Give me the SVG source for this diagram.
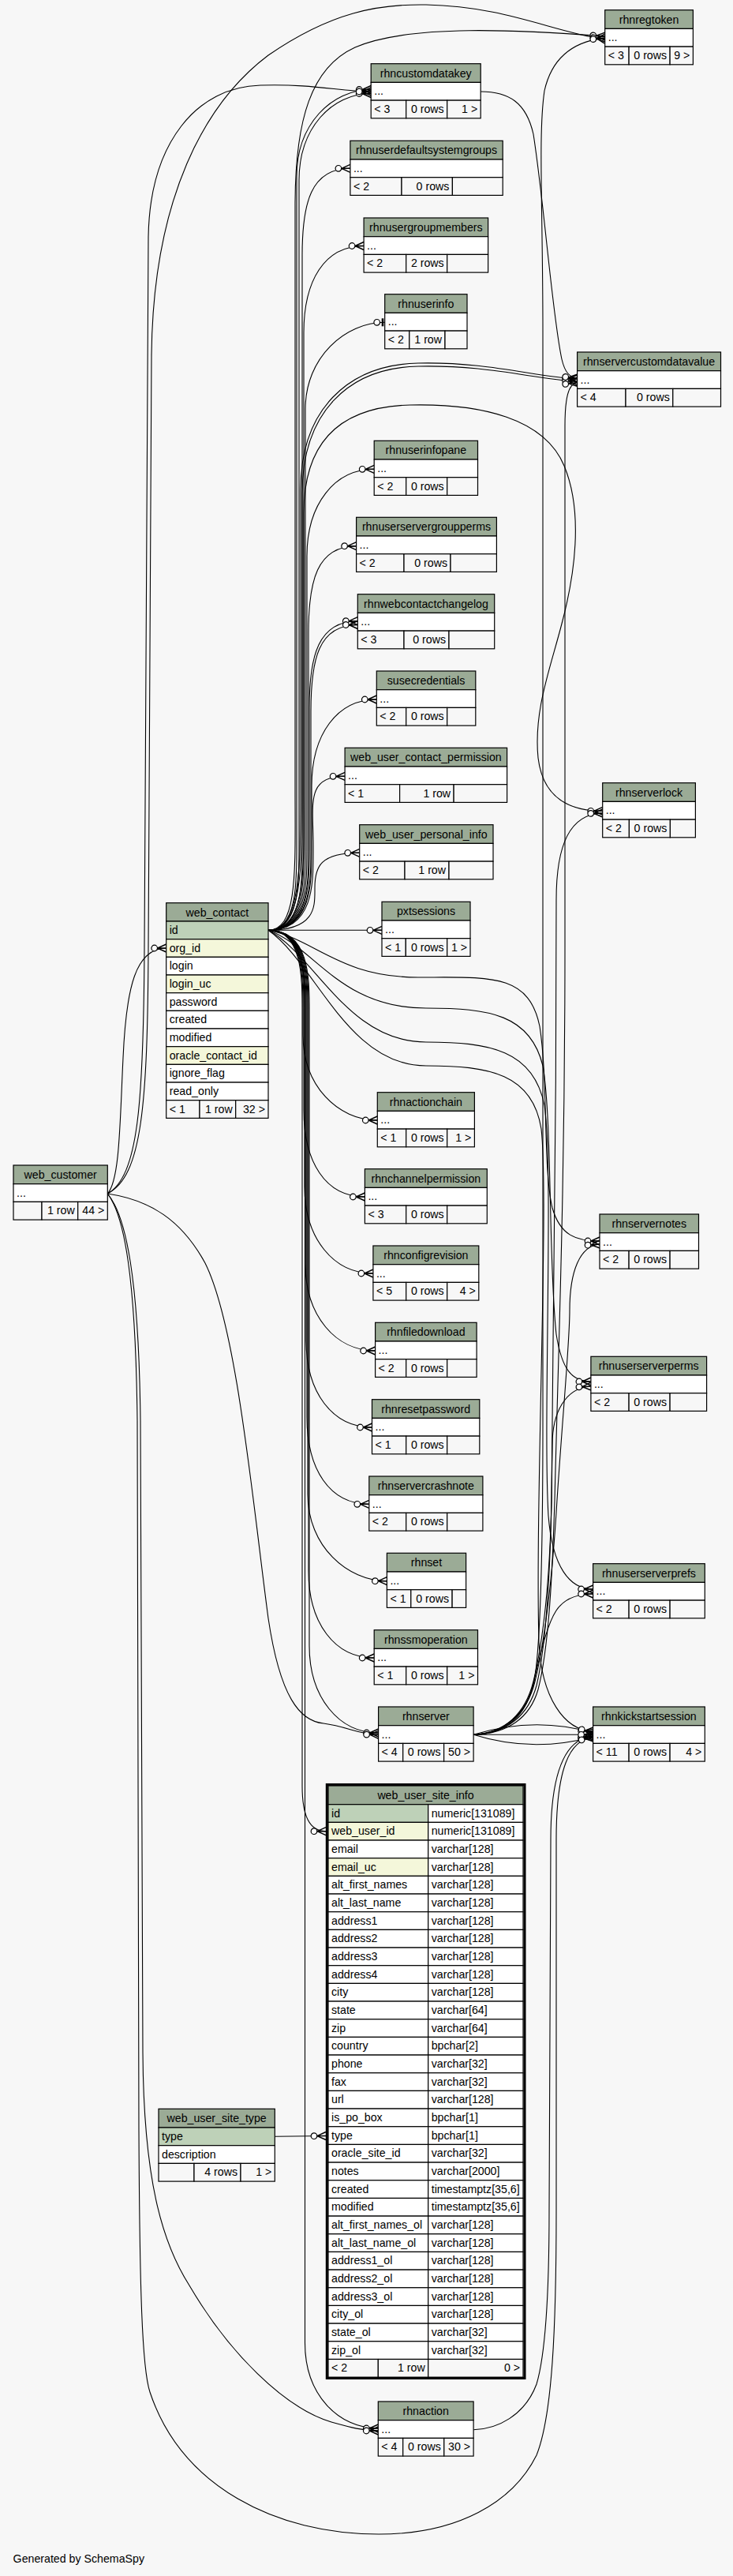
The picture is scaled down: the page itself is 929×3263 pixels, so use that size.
<svg xmlns="http://www.w3.org/2000/svg" width="929" height="3263" viewBox="0 0 929 3263">
<style>
text{font-family:"Liberation Sans",Arial,Helvetica,sans-serif;font-size:14.2px;fill:#000}
.tc{text-anchor:middle}
.te{text-anchor:end}
rect.h{fill:#9bab96;stroke:#000;stroke-width:1.2}
rect.r{fill:#fff;stroke:#000;stroke-width:1.2}
rect.p{fill:#bed1b8;stroke:#000;stroke-width:1.2}
rect.i{fill:#f4f7da;stroke:#000;stroke-width:1.2}
rect.f{fill:#f7f7f7;stroke:#000;stroke-width:1.2}
.e{fill:none;stroke:#000;stroke-width:1.1;marker-end:url(#cr)}
.eb{fill:none;stroke:#000;stroke-width:1.1;marker-end:url(#br)}
</style>
<defs>
<marker id="cr" markerUnits="userSpaceOnUse" markerWidth="24" markerHeight="14" viewBox="-21 -7 22 14" refX="0" refY="0" orient="auto" overflow="visible">
<path d="M-11,0L0,-5M-11,0L0,0M-11,0L0,5" fill="none" stroke="#000" stroke-width="1.4"/>
<circle cx="-15" cy="0" r="3.8" fill="#fff" stroke="#000" stroke-width="1.2"/>
</marker>
<marker id="br" markerUnits="userSpaceOnUse" markerWidth="24" markerHeight="14" viewBox="-21 -7 22 14" refX="0" refY="0" orient="auto" overflow="visible">
<rect x="-4" y="-5" width="2.6" height="10" fill="#000"/>
<circle cx="-10" cy="0" r="3.8" fill="#fff" stroke="#000" stroke-width="1.2"/>
</marker>
</defs>
<rect width="929" height="3263" fill="#f7f7f7"/>

<g id="connectors">
<path class="e" d="M340,1178.3 C376,1178.3 376,1118.3 376,1078.3 L376,223.5 C376,157.5 420.2,113.5 470.2,113.5"/>
<path class="e" d="M340,1178.3 C379,1178.3 379,1118.3 379,1078.3 L379,228.5 C379,162.5 420.2,118.5 470.2,118.5"/>
<path class="e" d="M340,1178.3 C383,1178.3 383,1118.3 383,1078.3 L383,323.3 C383,257.3 393.9,213.3 443.9,213.3"/>
<path class="e" d="M340,1178.3 C385,1178.3 385,1118.3 385,1078.3 L385,421.5 C385,355.5 411.1,311.5 461.1,311.5"/>
<path class="eb" d="M340,1178.3 C387,1178.3 387,1118.3 387,1078.3 L387,518.3 C387,452.3 437.7,408.3 487.7,408.3"/>
<path class="e" d="M340,1178.3 C389,1178.3 389,1118.3 389,1078.3 L389,704.3 C389,638.3 424.2,594.3 474.2,594.3"/>
<path class="e" d="M340,1178.3 C391,1178.3 391,1118.3 391,1078.3 L391,801.7 C391,735.7 401.6,691.7 451.6,691.7"/>
<path class="e" d="M340,1178.3 C392,1178.3 392,1118.3 392,1078.3 L392,896.7 C392,830.7 403.3,786.7 453.3,786.7"/>
<path class="e" d="M340,1178.3 C394,1178.3 394,1118.3 394,1078.3 L394,901.5 C394,835.5 403.3,791.5 453.3,791.5"/>
<path class="e" d="M340,1178.3 C395,1178.3 395,1118.3 395,1078.3 L395,996 C395,930 427.3,886 477.3,886"/>
<path class="e" d="M340,1178.3 C397,1178.3 397,1119.8 397,1080.8 L397,1071 C397,1018.4 387.1,983.3 437.1,983.3"/>
<path class="e" d="M340,1178.3 C399,1178.3 399,1148.9 399,1129.3 L399,1124.4 C399,1098 405.7,1080.3 455.7,1080.3"/>
<path class="e" d="M340,1178.3 L484,1178.3"/>
<path class="e" d="M340,1178.3 C384,1178.3 384,1238.3 384,1278.3 L384,1310.7 C384,1375.7 428.3,1419 478.3,1419"/>
<path class="e" d="M340,1178.3 C385,1178.3 385,1238.3 385,1278.3 L385,1406 C385,1472 412.4,1516 462.4,1516"/>
<path class="e" d="M340,1178.3 C386,1178.3 386,1238.3 386,1278.3 L386,1503 C386,1569 422.9,1613 472.9,1613"/>
<path class="e" d="M340,1178.3 C387,1178.3 387,1238.3 387,1278.3 L387,1601 C387,1667 425.6,1711 475.6,1711"/>
<path class="e" d="M340,1178.3 C388,1178.3 388,1238.3 388,1278.3 L388,1698 C388,1764 421.5,1808 471.5,1808"/>
<path class="e" d="M340,1178.3 C389,1178.3 389,1238.3 389,1278.3 L389,1795.3 C389,1861.3 417.8,1905.3 467.8,1905.3"/>
<path class="e" d="M340,1178.3 C390,1178.3 390,1238.3 390,1278.3 L390,1892.7 C390,1958.7 440.4,2002.7 490.4,2002.7"/>
<path class="e" d="M340,1178.3 C391,1178.3 391,1238.3 391,1278.3 L391,1990 C391,2056 424.2,2100 474.2,2100"/>
<path class="e" d="M340,1178.3 C392,1178.3 392,1238.3 392,1278.3 L392,2084.5 C392,2150.5 429.6,2195 479.6,2195"/>
<path class="e" d="M340,1178.3 C383,1178.3 383,1238.3 383,1278.3 L383,2262 C383,2300 392,2319.7 413,2319.7"/>
<path class="e" d="M340,1178.3 C386.5,1178.3 386.5,1238.3 386.5,1278.3 L386.5,2967.7 C386.5,3033.7 429.3,3076 479.3,3076"/>
<path class="e" d="M340,1178.3 C400,1190 430,1238 530,1238 C620,1238 670,1232 684,1300 C695,1370 688,1480 700,1530 C710,1565 730,1572 760,1572"/>
<path class="e" d="M340,1178.3 C400,1200 430,1277 540,1277 C620,1277 672,1285 688,1350 C700,1420 695,1600 705,1690 C712,1735 725,1750 748.9,1750"/>
<path class="e" d="M340,1178.3 C400,1210 440,1320 540,1320 C620,1320 676,1330 690,1400 C702,1480 688,1800 695,1920 C700,1985 722,2013 751.6,2013"/>
<path class="e" d="M340,1178.3 C400,1220 440,1350 540,1350 C620,1350 675,1360 686,1430 C696,1520 678,1900 683,2080 C686,2150 715,2192 751.6,2193"/>
<path class="e" d="M340,1178.3 C381,1178.3 381,1100 381,1000 L381,620 C381,520 440,462 530,460 C620,458 680,478 731.6,480"/>
<path class="e" d="M340,1178.3 C383,1178.3 383,1100 383,1000 L383,625 C383,524 440,466 530,464 C620,462 680,481 731.6,483"/>
<path class="e" d="M340,1178.3 C390,1178.3 385,1100 385,1000 L385,650 C385,560 430,515 520,513 C610,511 690,530 715,590 C740,650 728,730 712,790 C698,845 676,900 682,960 C688,1010 720,1027.3 763.7,1027.3"/>
<path class="e" d="M340,1178.3 C378,1178.3 374,1100 374,1000 L374,260 C374,150 395,85 450,60 C520,30 660,38 766.7,46"/>
<path class="e" d="M136.3,1512 C152,1495 152,1420 156,1340 C160,1250 172,1201 210.7,1201"/>
<path class="e" d="M136.3,1512 C175,1490 182,1400 183,1200 L188,300 C190,180 250,110 330,108 C400,106 430,116 470.2,116"/>
<path class="e" d="M136.3,1512 C180,1490 187,1400 188,1200 L192,450 C194,250 260,130 340,70 C420,15 480,5 540,6 C640,8 700,40 766.7,50"/>
<path class="e" d="M136.3,1512 C190,1520 230,1545 260,1600 C300,1680 320,1900 340,2050 C355,2150 380,2180 410,2183 C440,2187 455,2197 479.6,2197.3"/>
<path class="e" d="M136.3,1512 C160,1540 176,1620 178,1800 L181,2600 C182,2760 205,2840 240,2895 C290,2980 360,3050 420,3068 C445,3075 460,3079 479.3,3079"/>
<path class="e" d="M136.3,1512 C158,1540 172,1620 174,1800 L176,2700 C177,2900 180,3000 190,3030 C230,3150 350,3210 480,3210 C580,3210 650,3170 680,3110 C700,3060 705,2950 705,2800 L705,2330 C705,2240 722,2203 751.6,2201"/>
<path class="e" d="M600.1,3077.7 C630,3077 665,3060 680,3020 C692,2980 696,2900 696,2800 L698,2330 C698,2240 718,2202 751.6,2199"/>
<path class="e" d="M609.2,116 C645,116 667,130 676,170 C690,260 700,400 712,455 C716,472 722,478 731.6,479"/>
<path class="e" d="M600.1,2197.3 C640,2195 668,2170 677,2130 C686,2080 688,1950 688,1800 L688,420 C688,260 682,170 690,115 C700,70 730,52 766.7,48"/>
<path class="e" d="M600.1,2197.3 C645,2196 672,2175 682,2140 C695,2090 700,2000 703,1900 C708,1700 716,1500 716,1200 L716,540 C716,505 720,486 731.6,484.5"/>
<path class="e" d="M600.1,2197.3 C643,2196 670,2172 680,2135 C692,2085 697,2000 699,1900 C702,1700 705,1400 705,1140 C705,1070 722,1031 763.7,1030"/>
<path class="e" d="M600.1,2197.3 C641,2196 668,2170 678,2130 C690,2080 700,2000 706,1900 C714,1780 722,1700 722,1660 C722,1610 735,1578 760,1576"/>
<path class="e" d="M600.1,2197.3 C640,2196 666,2170 676,2130 C688,2080 697,2000 699,1900 L700,1830 C700,1790 716,1758 748.9,1756"/>
<path class="e" d="M600.1,2197.3 C640,2196 664,2175 674,2140 C684,2100 692,2060 705,2040 C715,2025 730,2019 751.6,2019"/>
<path class="e" d="M600.1,2197.3 C650,2182 700,2180 751.6,2195"/>
<path class="e" d="M600.1,2197.3 L751.6,2197.3"/>
<path class="e" d="M600.1,2197.3 C650,2213 700,2214 751.6,2200"/>
<path class="e" d="M348.3,2706.3 L413,2705.5"/>
</g>

<g id="rhnregtoken" transform="translate(766.7,12.7)">
<rect class="h" width="111.7" height="23.7"/><rect class="r" y="23.7" width="111.7" height="22.7"/>
<rect class="f" y="46.4" width="30.4" height="22.7"/><rect class="f" x="30.4" y="46.4" width="52" height="22.7"/><rect class="f" x="82.4" y="46.4" width="29.3" height="22.7"/>
<text class="tc" x="55.85" y="17">rhnregtoken</text><text x="4" y="39.7">...</text>
<text x="4" y="62.4">&lt; 3</text><text class="te" x="78.4" y="62.4">0 rows</text><text class="te" x="107.7" y="62.4">9 &gt;</text>
</g>
<g id="rhncustomdatakey" transform="translate(470.2,80.7)">
<rect class="h" width="139" height="23.7"/><rect class="r" y="23.7" width="139" height="22.7"/>
<rect class="f" y="46.4" width="44.5" height="22.7"/><rect class="f" x="44.5" y="46.4" width="52" height="22.7"/><rect class="f" x="96.5" y="46.4" width="42.5" height="22.7"/>
<text class="tc" x="69.5" y="17">rhncustomdatakey</text><text x="4" y="39.7">...</text>
<text x="4" y="62.4">&lt; 3</text><text class="te" x="92.5" y="62.4">0 rows</text><text class="te" x="135" y="62.4">1 &gt;</text>
</g>
<g id="rhnuserdefaultsystemgroups" transform="translate(443.9,178.3)">
<rect class="h" width="193.3" height="23.7"/><rect class="r" y="23.7" width="193.3" height="22.7"/>
<rect class="f" y="46.4" width="65.1" height="22.7"/><rect class="f" x="65.1" y="46.4" width="64.4" height="22.7"/><rect class="f" x="129.5" y="46.4" width="63.8" height="22.7"/>
<text class="tc" x="96.65" y="17">rhnuserdefaultsystemgroups</text><text x="4" y="39.7">...</text>
<text x="4" y="62.4">&lt; 2</text><text class="te" x="125.5" y="62.4">0 rows</text>
</g>
<g id="rhnusergroupmembers" transform="translate(461.1,276)">
<rect class="h" width="157.5" height="23.7"/><rect class="r" y="23.7" width="157.5" height="22.7"/>
<rect class="f" y="46.4" width="53.6" height="22.7"/><rect class="f" x="53.6" y="46.4" width="52" height="22.7"/><rect class="f" x="105.6" y="46.4" width="51.9" height="22.7"/>
<text class="tc" x="78.75" y="17">rhnusergroupmembers</text><text x="4" y="39.7">...</text>
<text x="4" y="62.4">&lt; 2</text><text class="te" x="101.6" y="62.4">2 rows</text>
</g>
<g id="rhnuserinfo" transform="translate(487.7,372.7)">
<rect class="h" width="104.3" height="23.7"/><rect class="r" y="23.7" width="104.3" height="22.7"/>
<rect class="f" y="46.4" width="31.1" height="22.7"/><rect class="f" x="31.1" y="46.4" width="45.2" height="22.7"/><rect class="f" x="76.3" y="46.4" width="28" height="22.7"/>
<text class="tc" x="52.15" y="17">rhnuserinfo</text><text x="4" y="39.7">...</text>
<text x="4" y="62.4">&lt; 2</text><text class="te" x="72.3" y="62.4">1 row</text>
</g>
<g id="rhnservercustomdatavalue" transform="translate(731.6,446)">
<rect class="h" width="181.9" height="23.7"/><rect class="r" y="23.7" width="181.9" height="22.7"/>
<rect class="f" y="46.4" width="61.4" height="22.7"/><rect class="f" x="61.4" y="46.4" width="59.8" height="22.7"/><rect class="f" x="121.2" y="46.4" width="60.7" height="22.7"/>
<text class="tc" x="90.95" y="17">rhnservercustomdatavalue</text><text x="4" y="39.7">...</text>
<text x="4" y="62.4">&lt; 4</text><text class="te" x="117.2" y="62.4">0 rows</text>
</g>
<g id="rhnuserinfopane" transform="translate(474.2,558.3)">
<rect class="h" width="131.3" height="23.7"/><rect class="r" y="23.7" width="131.3" height="22.7"/>
<rect class="f" y="46.4" width="40.5" height="22.7"/><rect class="f" x="40.5" y="46.4" width="52" height="22.7"/><rect class="f" x="92.5" y="46.4" width="38.8" height="22.7"/>
<text class="tc" x="65.65" y="17">rhnuserinfopane</text><text x="4" y="39.7">...</text>
<text x="4" y="62.4">&lt; 2</text><text class="te" x="88.5" y="62.4">0 rows</text>
</g>
<g id="rhnuserservergroupperms" transform="translate(451.6,655.3)">
<rect class="h" width="177.8" height="23.7"/><rect class="r" y="23.7" width="177.8" height="22.7"/>
<rect class="f" y="46.4" width="60.4" height="22.7"/><rect class="f" x="60.4" y="46.4" width="59" height="22.7"/><rect class="f" x="119.4" y="46.4" width="58.4" height="22.7"/>
<text class="tc" x="88.9" y="17">rhnuserservergroupperms</text><text x="4" y="39.7">...</text>
<text x="4" y="62.4">&lt; 2</text><text class="te" x="115.4" y="62.4">0 rows</text>
</g>
<g id="rhnwebcontactchangelog" transform="translate(453.3,752.7)">
<rect class="h" width="173.4" height="23.7"/><rect class="r" y="23.7" width="173.4" height="22.7"/>
<rect class="f" y="46.4" width="58.7" height="22.7"/><rect class="f" x="58.7" y="46.4" width="57" height="22.7"/><rect class="f" x="115.7" y="46.4" width="57.7" height="22.7"/>
<text class="tc" x="86.7" y="17">rhnwebcontactchangelog</text><text x="4" y="39.7">...</text>
<text x="4" y="62.4">&lt; 3</text><text class="te" x="111.7" y="62.4">0 rows</text>
</g>
<g id="susecredentials" transform="translate(477.3,850)">
<rect class="h" width="125.5" height="23.7"/><rect class="r" y="23.7" width="125.5" height="22.7"/>
<rect class="f" y="46.4" width="37.4" height="22.7"/><rect class="f" x="37.4" y="46.4" width="52" height="22.7"/><rect class="f" x="89.4" y="46.4" width="36.1" height="22.7"/>
<text class="tc" x="62.75" y="17">susecredentials</text><text x="4" y="39.7">...</text>
<text x="4" y="62.4">&lt; 2</text><text class="te" x="85.4" y="62.4">0 rows</text>
</g>
<g id="web_user_contact_permission" transform="translate(437.1,947.3)">
<rect class="h" width="205.5" height="23.7"/><rect class="r" y="23.7" width="205.5" height="22.7"/>
<rect class="f" y="46.4" width="69.5" height="22.7"/><rect class="f" x="69.5" y="46.4" width="68.5" height="22.7"/><rect class="f" x="138" y="46.4" width="67.5" height="22.7"/>
<text class="tc" x="102.75" y="17">web_user_contact_permission</text><text x="4" y="39.7">...</text>
<text x="4" y="62.4">&lt; 1</text><text class="te" x="134" y="62.4">1 row</text>
</g>
<g id="web_user_personal_info" transform="translate(455.7,1044.7)">
<rect class="h" width="169.3" height="23.7"/><rect class="r" y="23.7" width="169.3" height="22.7"/>
<rect class="f" y="46.4" width="57.3" height="22.7"/><rect class="f" x="57.3" y="46.4" width="56" height="22.7"/><rect class="f" x="113.3" y="46.4" width="56" height="22.7"/>
<text class="tc" x="84.65" y="17">web_user_personal_info</text><text x="4" y="39.7">...</text>
<text x="4" y="62.4">&lt; 2</text><text class="te" x="109.3" y="62.4">1 row</text>
</g>
<g id="rhnserverlock" transform="translate(763.7,991.7)">
<rect class="h" width="117.7" height="23.7"/><rect class="r" y="23.7" width="117.7" height="22.7"/>
<rect class="f" y="46.4" width="33.7" height="22.7"/><rect class="f" x="33.7" y="46.4" width="52" height="22.7"/><rect class="f" x="85.7" y="46.4" width="32" height="22.7"/>
<text class="tc" x="58.85" y="17">rhnserverlock</text><text x="4" y="39.7">...</text>
<text x="4" y="62.4">&lt; 2</text><text class="te" x="81.7" y="62.4">0 rows</text>
</g>
<g id="pxtsessions" transform="translate(484,1142.3)">
<rect class="h" width="112" height="23.7"/><rect class="r" y="23.7" width="112" height="22.7"/>
<rect class="f" y="46.4" width="30.3" height="22.7"/><rect class="f" x="30.3" y="46.4" width="52.4" height="22.7"/><rect class="f" x="82.7" y="46.4" width="29.3" height="22.7"/>
<text class="tc" x="56" y="17">pxtsessions</text><text x="4" y="39.7">...</text>
<text x="4" y="62.4">&lt; 1</text><text class="te" x="78.7" y="62.4">0 rows</text><text class="te" x="108" y="62.4">1 &gt;</text>
</g>
<g id="rhnactionchain" transform="translate(478.3,1383.7)">
<rect class="h" width="123.1" height="23.7"/><rect class="r" y="23.7" width="123.1" height="22.7"/>
<rect class="f" y="46.4" width="36.4" height="22.7"/><rect class="f" x="36.4" y="46.4" width="52" height="22.7"/><rect class="f" x="88.4" y="46.4" width="34.7" height="22.7"/>
<text class="tc" x="61.55" y="17">rhnactionchain</text><text x="4" y="39.7">...</text>
<text x="4" y="62.4">&lt; 1</text><text class="te" x="84.4" y="62.4">0 rows</text><text class="te" x="119.1" y="62.4">1 &gt;</text>
</g>
<g id="rhnchannelpermission" transform="translate(462.4,1480.7)">
<rect class="h" width="154.9" height="23.7"/><rect class="r" y="23.7" width="154.9" height="22.7"/>
<rect class="f" y="46.4" width="52.3" height="22.7"/><rect class="f" x="52.3" y="46.4" width="52" height="22.7"/><rect class="f" x="104.3" y="46.4" width="50.6" height="22.7"/>
<text class="tc" x="77.45" y="17">rhnchannelpermission</text><text x="4" y="39.7">...</text>
<text x="4" y="62.4">&lt; 3</text><text class="te" x="100.3" y="62.4">0 rows</text>
</g>
<g id="rhnconfigrevision" transform="translate(472.9,1578)">
<rect class="h" width="133.9" height="23.7"/><rect class="r" y="23.7" width="133.9" height="22.7"/>
<rect class="f" y="46.4" width="41.8" height="22.7"/><rect class="f" x="41.8" y="46.4" width="52" height="22.7"/><rect class="f" x="93.8" y="46.4" width="40.1" height="22.7"/>
<text class="tc" x="66.95" y="17">rhnconfigrevision</text><text x="4" y="39.7">...</text>
<text x="4" y="62.4">&lt; 5</text><text class="te" x="89.8" y="62.4">0 rows</text><text class="te" x="129.9" y="62.4">4 &gt;</text>
</g>
<g id="rhnfiledownload" transform="translate(475.6,1675.3)">
<rect class="h" width="128.5" height="23.7"/><rect class="r" y="23.7" width="128.5" height="22.7"/>
<rect class="f" y="46.4" width="39.1" height="22.7"/><rect class="f" x="39.1" y="46.4" width="52" height="22.7"/><rect class="f" x="91.1" y="46.4" width="37.4" height="22.7"/>
<text class="tc" x="64.25" y="17">rhnfiledownload</text><text x="4" y="39.7">...</text>
<text x="4" y="62.4">&lt; 2</text><text class="te" x="87.1" y="62.4">0 rows</text>
</g>
<g id="rhnservernotes" transform="translate(760,1538)">
<rect class="h" width="125.5" height="23.7"/><rect class="r" y="23.7" width="125.5" height="22.7"/>
<rect class="f" y="46.4" width="37.1" height="22.7"/><rect class="f" x="37.1" y="46.4" width="52" height="22.7"/><rect class="f" x="89.1" y="46.4" width="36.4" height="22.7"/>
<text class="tc" x="62.75" y="17">rhnservernotes</text><text x="4" y="39.7">...</text>
<text x="4" y="62.4">&lt; 2</text><text class="te" x="85.1" y="62.4">0 rows</text>
</g>
<g id="rhnuserserverperms" transform="translate(748.9,1718.3)">
<rect class="h" width="146.7" height="23.7"/><rect class="r" y="23.7" width="146.7" height="22.7"/>
<rect class="f" y="46.4" width="48.2" height="22.7"/><rect class="f" x="48.2" y="46.4" width="52" height="22.7"/><rect class="f" x="100.2" y="46.4" width="46.5" height="22.7"/>
<text class="tc" x="73.35" y="17">rhnuserserverperms</text><text x="4" y="39.7">...</text>
<text x="4" y="62.4">&lt; 2</text><text class="te" x="96.2" y="62.4">0 rows</text>
</g>
<g id="rhnresetpassword" transform="translate(471.5,1772.7)">
<rect class="h" width="136.3" height="23.7"/><rect class="r" y="23.7" width="136.3" height="22.7"/>
<rect class="f" y="46.4" width="43.2" height="22.7"/><rect class="f" x="43.2" y="46.4" width="52" height="22.7"/><rect class="f" x="95.2" y="46.4" width="41.1" height="22.7"/>
<text class="tc" x="68.15" y="17">rhnresetpassword</text><text x="4" y="39.7">...</text>
<text x="4" y="62.4">&lt; 1</text><text class="te" x="91.2" y="62.4">0 rows</text>
</g>
<g id="rhnservercrashnote" transform="translate(467.8,1870)">
<rect class="h" width="144.1" height="23.7"/><rect class="r" y="23.7" width="144.1" height="22.7"/>
<rect class="f" y="46.4" width="46.9" height="22.7"/><rect class="f" x="46.9" y="46.4" width="52" height="22.7"/><rect class="f" x="98.9" y="46.4" width="45.2" height="22.7"/>
<text class="tc" x="72.05" y="17">rhnservercrashnote</text><text x="4" y="39.7">...</text>
<text x="4" y="62.4">&lt; 2</text><text class="te" x="94.9" y="62.4">0 rows</text>
</g>
<g id="rhnset" transform="translate(490.4,1967.3)">
<rect class="h" width="100.2" height="23.7"/><rect class="r" y="23.7" width="100.2" height="22.7"/>
<rect class="f" y="46.4" width="30.4" height="22.7"/><rect class="f" x="30.4" y="46.4" width="52.3" height="22.7"/><rect class="f" x="82.7" y="46.4" width="17.5" height="22.7"/>
<text class="tc" x="50.1" y="17">rhnset</text><text x="4" y="39.7">...</text>
<text x="4" y="62.4">&lt; 1</text><text class="te" x="78.7" y="62.4">0 rows</text>
</g>
<g id="rhnuserserverprefs" transform="translate(751.6,1980.7)">
<rect class="h" width="141.7" height="23.7"/><rect class="r" y="23.7" width="141.7" height="22.7"/>
<rect class="f" y="46.4" width="45.5" height="22.7"/><rect class="f" x="45.5" y="46.4" width="52" height="22.7"/><rect class="f" x="97.5" y="46.4" width="44.2" height="22.7"/>
<text class="tc" x="70.85" y="17">rhnuserserverprefs</text><text x="4" y="39.7">...</text>
<text x="4" y="62.4">&lt; 2</text><text class="te" x="93.5" y="62.4">0 rows</text>
</g>
<g id="rhnssmoperation" transform="translate(474.2,2064.7)">
<rect class="h" width="131.3" height="23.7"/><rect class="r" y="23.7" width="131.3" height="22.7"/>
<rect class="f" y="46.4" width="40.5" height="22.7"/><rect class="f" x="40.5" y="46.4" width="52" height="22.7"/><rect class="f" x="92.5" y="46.4" width="38.8" height="22.7"/>
<text class="tc" x="65.65" y="17">rhnssmoperation</text><text x="4" y="39.7">...</text>
<text x="4" y="62.4">&lt; 1</text><text class="te" x="88.5" y="62.4">0 rows</text><text class="te" x="127.3" y="62.4">1 &gt;</text>
</g>
<g id="rhnserver" transform="translate(479.6,2162)">
<rect class="h" width="120.5" height="23.7"/><rect class="r" y="23.7" width="120.5" height="22.7"/>
<rect class="f" y="46.4" width="31.1" height="22.7"/><rect class="f" x="31.1" y="46.4" width="51.9" height="22.7"/><rect class="f" x="83" y="46.4" width="37.5" height="22.7"/>
<text class="tc" x="60.25" y="17">rhnserver</text><text x="4" y="39.7">...</text>
<text x="4" y="62.4">&lt; 4</text><text class="te" x="79" y="62.4">0 rows</text><text class="te" x="116.5" y="62.4">50 &gt;</text>
</g>
<g id="rhnkickstartsession" transform="translate(751.6,2162)">
<rect class="h" width="141.7" height="23.7"/><rect class="r" y="23.7" width="141.7" height="22.7"/>
<rect class="f" y="46.4" width="45.5" height="22.7"/><rect class="f" x="45.5" y="46.4" width="52" height="22.7"/><rect class="f" x="97.5" y="46.4" width="44.2" height="22.7"/>
<text class="tc" x="70.85" y="17">rhnkickstartsession</text><text x="4" y="39.7">...</text>
<text x="4" y="62.4">&lt; 11</text><text class="te" x="93.5" y="62.4">0 rows</text><text class="te" x="137.7" y="62.4">4 &gt;</text>
</g>
<g id="rhnaction" transform="translate(479.3,3042)">
<rect class="h" width="120.8" height="23.7"/><rect class="r" y="23.7" width="120.8" height="22.7"/>
<rect class="f" y="46.4" width="31.4" height="22.7"/><rect class="f" x="31.4" y="46.4" width="52.1" height="22.7"/><rect class="f" x="83.5" y="46.4" width="37.3" height="22.7"/>
<text class="tc" x="60.4" y="17">rhnaction</text><text x="4" y="39.7">...</text>
<text x="4" y="62.4">&lt; 4</text><text class="te" x="79.5" y="62.4">0 rows</text><text class="te" x="116.8" y="62.4">30 &gt;</text>
</g>
<g id="web_customer" transform="translate(17,1476)">
<rect class="h" width="119.3" height="23.7"/><rect class="r" y="23.7" width="119.3" height="22.7"/>
<rect class="f" y="46.4" width="36" height="22.7"/><rect class="f" x="36" y="46.4" width="45.7" height="22.7"/><rect class="f" x="81.7" y="46.4" width="37.6" height="22.7"/>
<text class="tc" x="59.65" y="17">web_customer</text><text x="4" y="39.7">...</text>
<text class="te" x="77.7" y="62.4">1 row</text><text class="te" x="115.3" y="62.4">44 &gt;</text>
</g>

<g id="web_contact" transform="translate(210.7,1143.7)">
<rect class="h" width="129.3" height="23.3"/>
<text class="tc" x="64.65" y="17">web_contact</text>
<rect class="p" y="23.3" width="129.3" height="22.67"/><text x="4" y="39.3">id</text>
<rect class="i" y="45.97" width="129.3" height="22.67"/><text x="4" y="61.97">org_id</text>
<rect class="r" y="68.64" width="129.3" height="22.67"/><text x="4" y="84.64">login</text>
<rect class="i" y="91.31" width="129.3" height="22.67"/><text x="4" y="107.31">login_uc</text>
<rect class="r" y="113.98" width="129.3" height="22.67"/><text x="4" y="129.98">password</text>
<rect class="r" y="136.65" width="129.3" height="22.67"/><text x="4" y="152.65">created</text>
<rect class="r" y="159.32" width="129.3" height="22.67"/><text x="4" y="175.32">modified</text>
<rect class="i" y="181.99" width="129.3" height="22.67"/><text x="4" y="197.99">oracle_contact_id</text>
<rect class="r" y="204.66" width="129.3" height="22.67"/><text x="4" y="220.66">ignore_flag</text>
<rect class="r" y="227.33" width="129.3" height="22.67"/><text x="4" y="243.33">read_only</text>
<rect class="f" y="250" width="42.3" height="22.67"/><rect class="f" x="42.3" y="250" width="45.7" height="22.67"/><rect class="f" x="88" y="250" width="41.3" height="22.67"/>
<text x="4" y="266">&lt; 1</text><text class="te" x="84" y="266">1 row</text><text class="te" x="125.3" y="266">32 &gt;</text>
</g>

<g id="web_user_site_type" transform="translate(201,2671.3)">
<rect class="h" width="147.3" height="23.7"/>
<text class="tc" x="73.65" y="17">web_user_site_type</text>
<rect class="p" y="23.7" width="147.3" height="22.7"/><text x="4" y="39.7">type</text>
<rect class="r" y="46.4" width="147.3" height="22.7"/><text x="4" y="62.4">description</text>
<rect class="f" y="69.1" width="45" height="22.7"/><rect class="f" x="45" y="69.1" width="59" height="22.7"/><rect class="f" x="104" y="69.1" width="43.3" height="22.7"/>
<text class="te" x="100" y="85.1">4 rows</text><text class="te" x="143.3" y="85.1">1 &gt;</text>
</g>

<g id="web_user_site_info" transform="translate(416,2262)">
<rect class="h" width="247" height="23.7"/>
<text class="tc" x="123.5" y="17">web_user_site_info</text>
<rect class="p" y="23.7" width="126.7" height="22.67"/><rect class="r" x="126.7" y="23.7" width="120.3" height="22.67"/><text x="4" y="39.7">id</text><text x="130.7" y="39.7">numeric[131089]</text>
<rect class="i" y="46.37" width="126.7" height="22.67"/><rect class="r" x="126.7" y="46.37" width="120.3" height="22.67"/><text x="4" y="62.37">web_user_id</text><text x="130.7" y="62.37">numeric[131089]</text>
<rect class="r" y="69.04" width="126.7" height="22.67"/><rect class="r" x="126.7" y="69.04" width="120.3" height="22.67"/><text x="4" y="85.04">email</text><text x="130.7" y="85.04">varchar[128]</text>
<rect class="i" y="91.71" width="126.7" height="22.67"/><rect class="r" x="126.7" y="91.71" width="120.3" height="22.67"/><text x="4" y="107.71">email_uc</text><text x="130.7" y="107.71">varchar[128]</text>
<rect class="r" y="114.38" width="126.7" height="22.67"/><rect class="r" x="126.7" y="114.38" width="120.3" height="22.67"/><text x="4" y="130.38">alt_first_names</text><text x="130.7" y="130.38">varchar[128]</text>
<rect class="r" y="137.05" width="126.7" height="22.67"/><rect class="r" x="126.7" y="137.05" width="120.3" height="22.67"/><text x="4" y="153.05">alt_last_name</text><text x="130.7" y="153.05">varchar[128]</text>
<rect class="r" y="159.72" width="126.7" height="22.67"/><rect class="r" x="126.7" y="159.72" width="120.3" height="22.67"/><text x="4" y="175.72">address1</text><text x="130.7" y="175.72">varchar[128]</text>
<rect class="r" y="182.39" width="126.7" height="22.67"/><rect class="r" x="126.7" y="182.39" width="120.3" height="22.67"/><text x="4" y="198.39">address2</text><text x="130.7" y="198.39">varchar[128]</text>
<rect class="r" y="205.06" width="126.7" height="22.67"/><rect class="r" x="126.7" y="205.06" width="120.3" height="22.67"/><text x="4" y="221.06">address3</text><text x="130.7" y="221.06">varchar[128]</text>
<rect class="r" y="227.73" width="126.7" height="22.67"/><rect class="r" x="126.7" y="227.73" width="120.3" height="22.67"/><text x="4" y="243.73">address4</text><text x="130.7" y="243.73">varchar[128]</text>
<rect class="r" y="250.4" width="126.7" height="22.67"/><rect class="r" x="126.7" y="250.4" width="120.3" height="22.67"/><text x="4" y="266.4">city</text><text x="130.7" y="266.4">varchar[128]</text>
<rect class="r" y="273.07" width="126.7" height="22.67"/><rect class="r" x="126.7" y="273.07" width="120.3" height="22.67"/><text x="4" y="289.07">state</text><text x="130.7" y="289.07">varchar[64]</text>
<rect class="r" y="295.74" width="126.7" height="22.67"/><rect class="r" x="126.7" y="295.74" width="120.3" height="22.67"/><text x="4" y="311.74">zip</text><text x="130.7" y="311.74">varchar[64]</text>
<rect class="r" y="318.41" width="126.7" height="22.67"/><rect class="r" x="126.7" y="318.41" width="120.3" height="22.67"/><text x="4" y="334.41">country</text><text x="130.7" y="334.41">bpchar[2]</text>
<rect class="r" y="341.08" width="126.7" height="22.67"/><rect class="r" x="126.7" y="341.08" width="120.3" height="22.67"/><text x="4" y="357.08">phone</text><text x="130.7" y="357.08">varchar[32]</text>
<rect class="r" y="363.75" width="126.7" height="22.67"/><rect class="r" x="126.7" y="363.75" width="120.3" height="22.67"/><text x="4" y="379.75">fax</text><text x="130.7" y="379.75">varchar[32]</text>
<rect class="r" y="386.42" width="126.7" height="22.67"/><rect class="r" x="126.7" y="386.42" width="120.3" height="22.67"/><text x="4" y="402.42">url</text><text x="130.7" y="402.42">varchar[128]</text>
<rect class="r" y="409.09" width="126.7" height="22.67"/><rect class="r" x="126.7" y="409.09" width="120.3" height="22.67"/><text x="4" y="425.09">is_po_box</text><text x="130.7" y="425.09">bpchar[1]</text>
<rect class="r" y="431.76" width="126.7" height="22.67"/><rect class="r" x="126.7" y="431.76" width="120.3" height="22.67"/><text x="4" y="447.76">type</text><text x="130.7" y="447.76">bpchar[1]</text>
<rect class="r" y="454.43" width="126.7" height="22.67"/><rect class="r" x="126.7" y="454.43" width="120.3" height="22.67"/><text x="4" y="470.43">oracle_site_id</text><text x="130.7" y="470.43">varchar[32]</text>
<rect class="r" y="477.1" width="126.7" height="22.67"/><rect class="r" x="126.7" y="477.1" width="120.3" height="22.67"/><text x="4" y="493.1">notes</text><text x="130.7" y="493.1">varchar[2000]</text>
<rect class="r" y="499.77" width="126.7" height="22.67"/><rect class="r" x="126.7" y="499.77" width="120.3" height="22.67"/><text x="4" y="515.77">created</text><text x="130.7" y="515.77">timestamptz[35,6]</text>
<rect class="r" y="522.44" width="126.7" height="22.67"/><rect class="r" x="126.7" y="522.44" width="120.3" height="22.67"/><text x="4" y="538.44">modified</text><text x="130.7" y="538.44">timestamptz[35,6]</text>
<rect class="r" y="545.11" width="126.7" height="22.67"/><rect class="r" x="126.7" y="545.11" width="120.3" height="22.67"/><text x="4" y="561.11">alt_first_names_ol</text><text x="130.7" y="561.11">varchar[128]</text>
<rect class="r" y="567.78" width="126.7" height="22.67"/><rect class="r" x="126.7" y="567.78" width="120.3" height="22.67"/><text x="4" y="583.78">alt_last_name_ol</text><text x="130.7" y="583.78">varchar[128]</text>
<rect class="r" y="590.45" width="126.7" height="22.67"/><rect class="r" x="126.7" y="590.45" width="120.3" height="22.67"/><text x="4" y="606.45">address1_ol</text><text x="130.7" y="606.45">varchar[128]</text>
<rect class="r" y="613.12" width="126.7" height="22.67"/><rect class="r" x="126.7" y="613.12" width="120.3" height="22.67"/><text x="4" y="629.12">address2_ol</text><text x="130.7" y="629.12">varchar[128]</text>
<rect class="r" y="635.79" width="126.7" height="22.67"/><rect class="r" x="126.7" y="635.79" width="120.3" height="22.67"/><text x="4" y="651.79">address3_ol</text><text x="130.7" y="651.79">varchar[128]</text>
<rect class="r" y="658.46" width="126.7" height="22.67"/><rect class="r" x="126.7" y="658.46" width="120.3" height="22.67"/><text x="4" y="674.46">city_ol</text><text x="130.7" y="674.46">varchar[128]</text>
<rect class="r" y="681.13" width="126.7" height="22.67"/><rect class="r" x="126.7" y="681.13" width="120.3" height="22.67"/><text x="4" y="697.13">state_ol</text><text x="130.7" y="697.13">varchar[32]</text>
<rect class="r" y="703.8" width="126.7" height="22.67"/><rect class="r" x="126.7" y="703.8" width="120.3" height="22.67"/><text x="4" y="719.8">zip_ol</text><text x="130.7" y="719.8">varchar[32]</text>
<rect class="f" y="726.47" width="63.3" height="22.67"/><rect class="f" x="63.3" y="726.47" width="63.4" height="22.67"/><rect class="f" x="126.7" y="726.47" width="120.3" height="22.67"/>
<text x="4" y="742.47">&lt; 2</text><text class="te" x="122.7" y="742.47">1 row</text><text class="te" x="243" y="742.47">0 &gt;</text>
<rect x="-1.7" y="-1.5" width="250.7" height="752" fill="none" stroke="#000" stroke-width="3"/>
</g>

<text x="16.6" y="3245.7">Generated by SchemaSpy</text>
</svg>
